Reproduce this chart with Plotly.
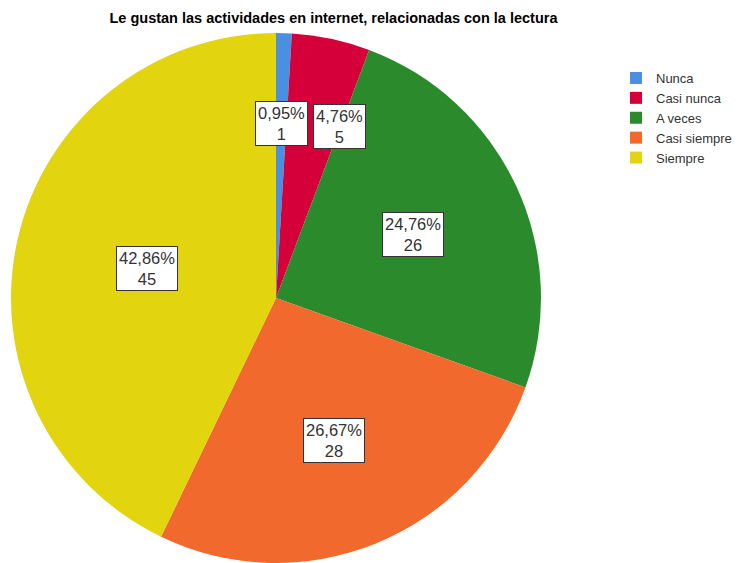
import math
import plotly.graph_objects as go

# data
categories = ["Nunca", "Casi nunca", "A veces", "Casi siempre", "Siempre"]
counts = [1, 5, 26, 28, 45]
colors = ["#4A8FE0", "#D5003A", "#2A8A2C", "#F2692E", "#E2D50F"]

# the page body adds an 8px offset, so the figure is a bit smaller than the window
W, H = 736, 555
TOP = 25
# pie sits in a square domain; centre / radius in pixels (figure coords)
x0, x1 = 3, 533
R = min(x1 - x0, H - TOP) / 2
cx = (x0 + x1) / 2
cy = TOP + R

total = sum(counts)
pcts = [c / total * 100 for c in counts]

fig = go.Figure(go.Pie(
    labels=categories,
    values=counts,
    marker=dict(colors=colors, line=dict(width=0)),
    sort=False,
    direction="clockwise",
    rotation=0,
    textinfo="none",
    hovertemplate="%{label}: %{value}<extra></extra>",
    domain=dict(x=[x0 / W, x1 / W], y=[0, 1]),
))

# label placement: radius fraction and horizontal nudge for the crowded small slices
label_r = [0.66, 0.66, 0.57, 0.58, 0.50]
label_dx = [0, 27, 0, 0, 0]

annotations = []
cum = 0
for i, (p, c) in enumerate(zip(pcts, counts)):
    theta = math.radians((cum + p / 2) / 100 * 360)
    cum += p
    px = cx + label_r[i] * R * math.sin(theta)
    py = cy - label_r[i] * R * math.cos(theta)
    txt = f"{p:.2f}%".replace(".", ",") + f"<br>{c}"
    annotations.append(dict(
        x=px / W, y=(H - py) / (H - TOP),
        xref="paper", yref="paper", xanchor="center", yanchor="middle",
        text=txt, showarrow=False, xshift=label_dx[i],
        font=dict(size=16.5, color="#333333", family="Liberation Sans, Arial, sans-serif"),
        bgcolor="#FFFFFF", bordercolor="#333333", borderwidth=1, borderpad=2,
        align="center",
    ))

fig.update_layout(
    width=W, height=H,
    title=dict(text="<b>Le gustan las actividades en internet, relacionadas con la lectura</b>",
               x=325.5 / W, xanchor="center", y=1 - 10 / H, yanchor="middle",
               font=dict(size=14.5, color="#000000", family="Liberation Sans, Arial, sans-serif")),
    legend=dict(xref="container", yref="container",
                x=608 / W, xanchor="left", y=1 - 55 / H, yanchor="top",
                font=dict(size=13, color="#333333", family="Liberation Sans, Arial, sans-serif"),
                itemwidth=30, tracegroupgap=0),
    annotations=annotations,
    margin=dict(l=0, r=0, t=TOP, b=0, autoexpand=False),
    paper_bgcolor="#FFFFFF",
    plot_bgcolor="#FFFFFF",
)

fig.write_html("out.html")
